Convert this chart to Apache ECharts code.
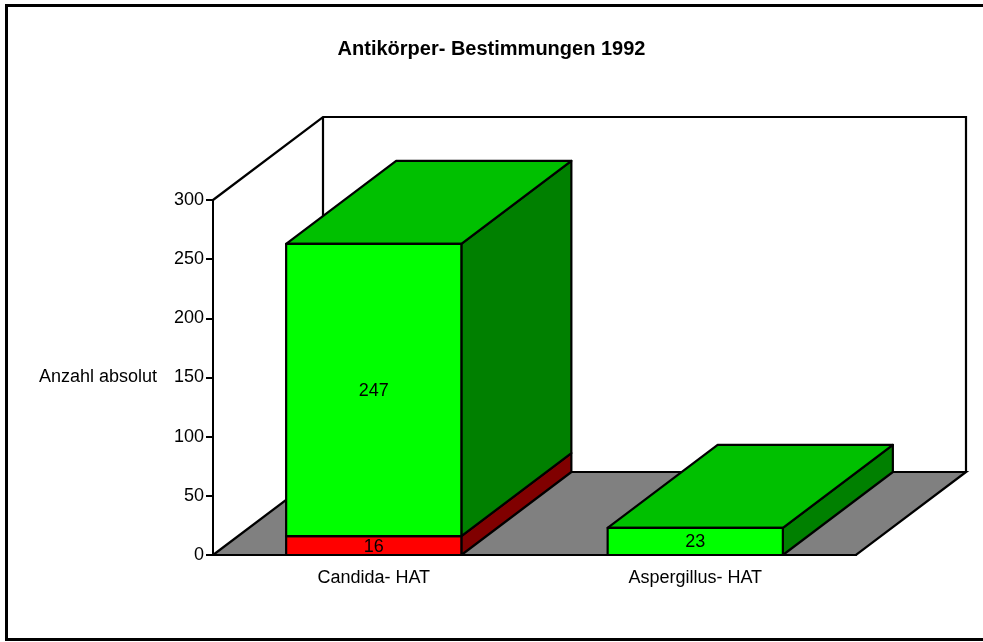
<!DOCTYPE html>
<html>
<head>
<meta charset="utf-8">
<script src="https://cdn.jsdelivr.net/npm/echarts@6/dist/echarts.min.js"></script>
<style>
html, body { margin: 0; padding: 0; background: #fff; }
#chart { width: 983px; height: 642px; }
</style>
</head>
<body>
<div id="chart"></div>
<script>
var categories = ['Candida- HAT', 'Aspergillus- HAT'];
var redValues = [16, 0];
var greenValues = [247, 23];

var font = "'Liberation Sans', Arial, sans-serif";
var depthX = 110, depthY = -83;
var barRatio = 0.545;

var chart = echarts.init(document.getElementById('chart'));

// stacked segments as [category, from, to]
var redData = categories.map(function (c, i) { return [i, 0, redValues[i]]; });
var greenData = categories.map(function (c, i) { return [i, redValues[i], redValues[i] + greenValues[i]]; });

function makeBox(front, top, side, withTop) {
    return function (params, api) {
        var lo = api.value(1), hi = api.value(2);
        if (hi <= lo) return null;
        var p0 = api.coord([api.value(0), lo]);
        var p1 = api.coord([api.value(0), hi]);
        var w = api.size([1, 0])[0] * barRatio;
        var x0 = p0[0] - w / 2, x1 = p0[0] + w / 2;
        var stroke = { stroke: '#000', lineWidth: 2.2, lineJoin: 'round' };
        var kids = [];
        kids.push({
            type: 'polygon',
            shape: { points: [[x1, p0[1]], [x1 + depthX, p0[1] + depthY], [x1 + depthX, p1[1] + depthY], [x1, p1[1]]] },
            style: Object.assign({ fill: side }, stroke)
        });
        if (withTop) {
            kids.push({
                type: 'polygon',
                shape: { points: [[x0, p1[1]], [x0 + depthX, p1[1] + depthY], [x1 + depthX, p1[1] + depthY], [x1, p1[1]]] },
                style: Object.assign({ fill: top }, stroke)
            });
        }
        kids.push({
            type: 'rect',
            shape: { x: x0, y: p1[1], width: w, height: p0[1] - p1[1] },
            style: Object.assign({ fill: front }, stroke)
        });
        kids.push({
            type: 'text',
            style: {
                text: String(hi - lo), x: p0[0], y: (p0[1] + p1[1]) / 2 + 1,
                align: 'center', verticalAlign: 'middle',
                font: '18px ' + font, fill: '#000'
            }
        });
        return { type: 'group', children: kids };
    };
}

function renderRoom(params, api) {
    var cs = params.coordSys;
    var x = cs.x, y = cs.y, w = cs.width, h = cs.height;
    var b = y + h;
    var line = { stroke: '#000', lineWidth: 2.2, fill: null };
    return {
        type: 'group',
        children: [
            { type: 'polygon', shape: { points: [[x, b], [x + w, b], [x + w + depthX, b + depthY], [x + depthX, b + depthY]] },
              style: { fill: '#808080', stroke: '#000', lineWidth: 2.2 } },
            { type: 'polyline', shape: { points: [[x, y], [x + depthX, y + depthY], [x + w + depthX, y + depthY], [x + w + depthX, b + depthY]] },
              style: line },
            { type: 'line', shape: { x1: x + depthX, y1: y + depthY, x2: x + depthX, y2: b + depthY }, style: line }
        ]
    };
}

chart.setOption({
    animation: false,
    backgroundColor: '#fff',
    title: {
        text: 'Antikörper- Bestimmungen 1992',
        left: 'center',
        top: 34,
        textStyle: { fontFamily: font, fontSize: 20, fontWeight: 'bold', color: '#000' }
    },
    graphic: [{
        type: 'rect',
        shape: { x: 6.5, y: 5.5, width: 1000, height: 634 },
        style: { fill: null, stroke: '#000', lineWidth: 3 }
    }],
    grid: { left: 213, right: 127, top: 200, bottom: 87 },
    xAxis: {
        type: 'category',
        data: categories,
        axisLine: { lineStyle: { color: '#000', width: 2 } },
        axisTick: { length: 8, interval: 0, lineStyle: { color: '#000', width: 2 } },
        axisLabel: { margin: 14, fontFamily: font, fontSize: 18, color: '#000' }
    },
    yAxis: {
        type: 'value',
        min: 0,
        max: 300,
        interval: 50,
        name: 'Anzahl absolut',
        nameLocation: 'middle',
        nameRotate: 0,
        nameGap: 56,
        nameTextStyle: { fontFamily: font, fontSize: 18, color: '#000' },
        axisLine: { show: true, lineStyle: { color: '#000', width: 2 } },
        axisTick: { show: true, length: 7, lineStyle: { color: '#000', width: 2 } },
        axisLabel: { margin: 9, fontFamily: font, fontSize: 18, color: '#000' },
        splitLine: { show: false }
    },
    series: [
        { type: 'custom', clip: false, z: 1, data: [[0]], renderItem: renderRoom, silent: true },
        { type: 'custom', clip: false, z: 2, data: redData, renderItem: makeBox('#ff0000', '#c00000', '#800000', false) },
        { type: 'custom', clip: false, z: 3, data: greenData, renderItem: makeBox('#00ff00', '#00c000', '#008000', true) }
    ]
});

window.addEventListener('resize', function () {
    chart.resize();
});
</script>
</body>
</html>
